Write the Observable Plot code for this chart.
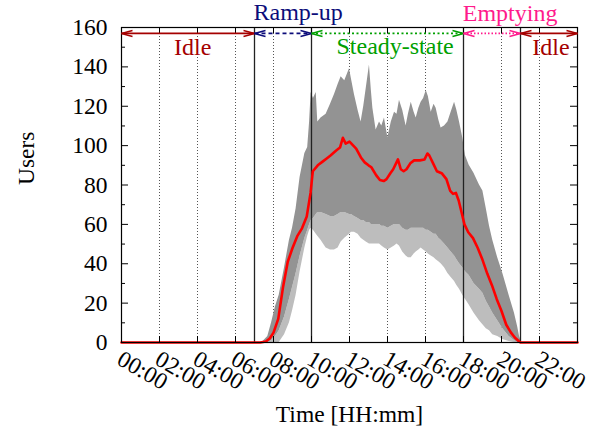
<!DOCTYPE html>
<html><head><meta charset="utf-8">
<script src="https://cdn.jsdelivr.net/npm/d3@7"></script>
<script src="https://cdn.jsdelivr.net/npm/@observablehq/plot@0.6"></script>
<style>html,body{margin:0;padding:0;background:#fff;} #chart{width:605px;height:430px;} svg text{font-family:"Liberation Serif",serif;}</style>
</head><body><div id="chart"></div>
<script>
// ---- data (hours of day, users) ----
const xTickHours = [0, 2, 4, 6, 8, 10, 12, 14, 16, 18, 20, 22];
const xTickLabels = ["00:00","02:00","04:00","06:00","08:00","10:00","12:00","14:00","16:00","18:00","20:00","22:00"];
const yTicks = [0, 20, 40, 60, 80, 100, 120, 140, 160];
const yMinorTicks = [10, 30, 50, 70, 90, 110, 130, 150];

const phaseNames = ["Idle", "Ramp-up", "Steady-state", "Emptying", "Idle"];
const phaseStart = [0, 7, 10, 18, 21];
const phaseEnd = [7, 10, 18, 21, 24];
const phaseBounds = [7, 10, 18, 21];
// annotation anchors (hour, users) for phase labels
const phaseLabelHour = [3.75, 9.3, 14.4, 20.45, 22.6];
const phaseLabelUsers = [146, 164, 146.5, 163.5, 146];
const arrowUsers = 157;

// envelope of all daily traces
const envT = [7.4, 7.7, 7.9, 8.1, 8.3, 8.58, 8.84, 9.0, 9.19, 9.4,
  9.65, 9.8, 9.9, 9.98, 10.1, 10.25, 10.33, 10.5, 10.77, 11.0,
  11.21, 11.4, 11.56, 11.75, 12.0, 12.1, 12.26, 12.45, 12.61, 12.75,
  12.88, 13.05, 13.15, 13.23, 13.4, 13.58, 13.7, 13.84, 14.02, 14.2,
  14.37, 14.5, 14.63, 14.8, 14.98, 15.1, 15.25, 15.4, 15.51, 15.65,
  15.77, 15.9, 16.04, 16.15, 16.3, 16.45, 16.56, 16.7, 16.82, 17.0,
  17.18, 17.35, 17.53, 17.65, 17.79, 17.96, 18.1, 18.3, 18.55, 18.84,
  19.02, 19.2, 19.37, 19.54, 19.8, 20.07, 20.4, 20.68, 20.85, 20.95, 21.05];
const envHi = [0, 3, 10, 18, 24, 38, 52, 58, 68, 84,
  96, 99, 112, 127, 124, 127, 112, 114, 116, 121,
  126, 131, 135, 133, 139, 134, 126, 118, 112, 120,
  129, 141, 128, 119, 108, 112, 110, 114, 104, 112,
  117, 116, 123, 118, 110, 116, 122, 117, 114, 119,
  122, 124, 128, 125, 117, 121, 119, 113, 109, 110,
  112, 117, 122, 118, 112, 104, 95, 90, 86, 80,
  77, 68, 59, 52, 43, 35, 24, 15, 8, 3, 0];
const envCore = [0, 0, 1, 3, 6, 13, 22, 28, 35, 44,
  53, 57, 60, 62, 63, 65, 66, 66, 65, 64,
  64, 65, 66, 66, 65, 65, 64, 63, 62, 62,
  61, 61, 60, 60, 60, 60, 59, 59, 58, 59,
  60, 60, 60, 58, 57, 57, 58, 58, 58, 58,
  58, 58, 57, 57, 56, 55, 55, 53, 52, 50,
  48, 46, 44, 42, 40, 38, 36, 34, 30, 27,
  25, 21, 18, 15, 11, 7, 3, 1, 0, 0, 0];
const envLo = [0, 0, 0, 0, 0, 4, 10, 16, 24, 36,
  48, 54, 57, 58, 57, 55, 54, 52, 48, 47,
  47, 48, 51, 53, 55, 56, 56, 55, 53, 52,
  51, 50, 50, 50, 50, 50, 49, 48, 47, 48,
  49, 50, 49, 46, 44, 43, 43, 45, 46, 47,
  48, 47, 46, 45, 44, 43, 42, 41, 40, 38,
  35, 33, 31, 29, 27, 24, 22, 19, 15, 11,
  9, 7, 6, 4, 3, 1.5, 0.5, 0, 0, 0, 0];

// mean over all days
const meanT = [0, 7.3, 7.6, 7.8, 8.0, 8.25, 8.5, 8.75, 9.0, 9.25,
  9.5, 9.75, 9.95, 10.07, 10.33, 10.6, 10.8, 11.0, 11.3, 11.5,
  11.65, 11.8, 12.0, 12.2, 12.35, 12.6, 12.8, 13.0, 13.15, 13.4,
  13.6, 13.8, 13.95, 14.15, 14.3, 14.45, 14.55, 14.7, 14.85, 15.0,
  15.2, 15.4, 15.7, 15.95, 16.1, 16.2, 16.4, 16.6, 16.85, 17.1,
  17.3, 17.45, 17.6, 17.75, 17.9, 18.05, 18.25, 18.5, 18.75, 19.0,
  19.25, 19.5, 19.75, 20.0, 20.25, 20.5, 20.7, 20.9, 21.0, 24];
const meanUsers = [0, 0, 0.5, 2, 5, 12, 28, 41, 48, 54,
  58, 64, 76, 87, 90, 92, 93.5, 95, 97.5, 99,
  104, 101, 102, 100, 98.5, 94, 91.5, 90, 89, 85,
  82.5, 82, 83, 86, 88, 91, 93, 88, 87, 88,
  91, 92.5, 92.5, 93, 96, 95, 91, 87, 86, 83,
  77, 75.5, 76, 72, 66, 60, 56, 53, 48, 42,
  35, 29, 22, 16, 9, 5, 2.5, 0.8, 0, 0];

// ---- styles ----
const FONT = "Liberation Serif";
const phaseColors = ["#a50000", "#0c0c7a", "#00a000", "#ff1a8c", "#a50000"];
const phaseDash = [null, "4,3", "2,2.5", "1.5,2", null];

const env = envT.map((t, i) => ({t, hi: envHi[i], core: envCore[i], lo: envLo[i]}));
const mean = meanT.map((t, i) => ({t, v: meanUsers[i]}));
const idx = phaseNames.map((_, i) => i);

const W = 605, H = 430, ML = 121, MR = 28, MT = 27, MB = 88;
const fw = W - ML - MR, fh = H - MT - MB;
// arrow head size in pixels, converted to data units
const headLenH = 11 * 24 / fw, headHalfU = 3 * 160 / fh;

const marks = [
  Plot.ruleX(xTickHours.filter(h => h > 0), {x: d => d, stroke: "#555", strokeWidth: 1, strokeDasharray: "1,2"}),
  Plot.areaY(env, {x: "t", y1: "lo", y2: "core", fill: "#bdbdbd", curve: "linear"}),
  Plot.areaY(env, {x: "t", y1: "core", y2: "hi", fill: "#939393", curve: "linear"}),
  Plot.ruleX(phaseBounds, {x: d => d, stroke: "#222", strokeWidth: 1.3}),
  Plot.line(mean, {x: "t", y: "v", stroke: "#ff0000", strokeWidth: 2.6, curve: "linear"}),
  Plot.frame({stroke: "#000", strokeWidth: 1.2}),
  // ticks (inward, mirrored)
  Plot.tickY(yTicks, {y: d => d, insetRight: fw - 7, stroke: "#000"}),
  Plot.tickY(yTicks, {y: d => d, insetLeft: fw - 7, stroke: "#000"}),
  Plot.tickY(yMinorTicks, {y: d => d, insetRight: fw - 4, stroke: "#000"}),
  Plot.tickY(yMinorTicks, {y: d => d, insetLeft: fw - 4, stroke: "#000"}),
  Plot.tickX(xTickHours, {x: d => d, insetTop: fh - 6, stroke: "#000"}),
  Plot.tickX(xTickHours, {x: d => d, insetBottom: fh - 6, stroke: "#000"}),
];

// phase arrows: (dashed) shaft + solid open heads at both ends
idx.forEach(i => {
  marks.push(Plot.link([i], {
    x1: j => phaseStart[j], x2: j => phaseEnd[j], y1: () => arrowUsers, y2: () => arrowUsers,
    stroke: phaseColors[i], strokeWidth: 1.6, strokeDasharray: phaseDash[i] || undefined
  }));
  // four wings: [start-up, start-down, end-up, end-down]
  const wings = [0, 1, 2, 3];
  marks.push(Plot.link(wings, {
    x1: k => k < 2 ? phaseStart[i] : phaseEnd[i],
    x2: k => k < 2 ? phaseStart[i] + headLenH : phaseEnd[i] - headLenH,
    y1: () => arrowUsers,
    y2: k => arrowUsers + (k % 2 === 0 ? headHalfU : -headHalfU),
    stroke: phaseColors[i], strokeWidth: 1.6
  }));
  marks.push(Plot.text([i], {
    x: j => phaseLabelHour[j], y: j => phaseLabelUsers[j], text: j => phaseNames[j],
    fill: phaseColors[i], fontSize: 24, fontFamily: FONT, lineAnchor: "bottom", textAnchor: "middle"
  }));
});

marks.push(
  Plot.text(yTicks, {y: d => d, frameAnchor: "left", text: d => String(d), textAnchor: "end", dx: -14,
    fontSize: 23.5, fontFamily: FONT, fill: "#000"}),
  Plot.text(xTickHours, {x: d => d, frameAnchor: "bottom", text: (d, i) => xTickLabels[i], rotate: 30,
    textAnchor: "start", lineAnchor: "bottom", dx: -6, dy: 21, fontSize: 23.5, fontFamily: FONT, fill: "#000"}),
  Plot.text(["Users"], {frameAnchor: "left", text: d => d, rotate: -90, lineAnchor: "bottom", dx: -88,
    fontSize: 23.5, fontFamily: FONT, fill: "#000"}),
  Plot.text(["Time [HH:mm]"], {frameAnchor: "bottom", text: d => d, lineAnchor: "bottom", dy: 79,
    fontSize: 23.5, fontFamily: FONT, fill: "#000"})
);

const chart = Plot.plot({
  width: W, height: H,
  marginLeft: ML, marginRight: MR, marginTop: MT, marginBottom: MB,
  x: {domain: [0, 24], axis: null},
  y: {domain: [0, 160], axis: null},
  style: {background: "#fff", overflow: "visible", fontFamily: FONT},
  marks
});
document.getElementById("chart").appendChild(chart);
</script></body></html>
